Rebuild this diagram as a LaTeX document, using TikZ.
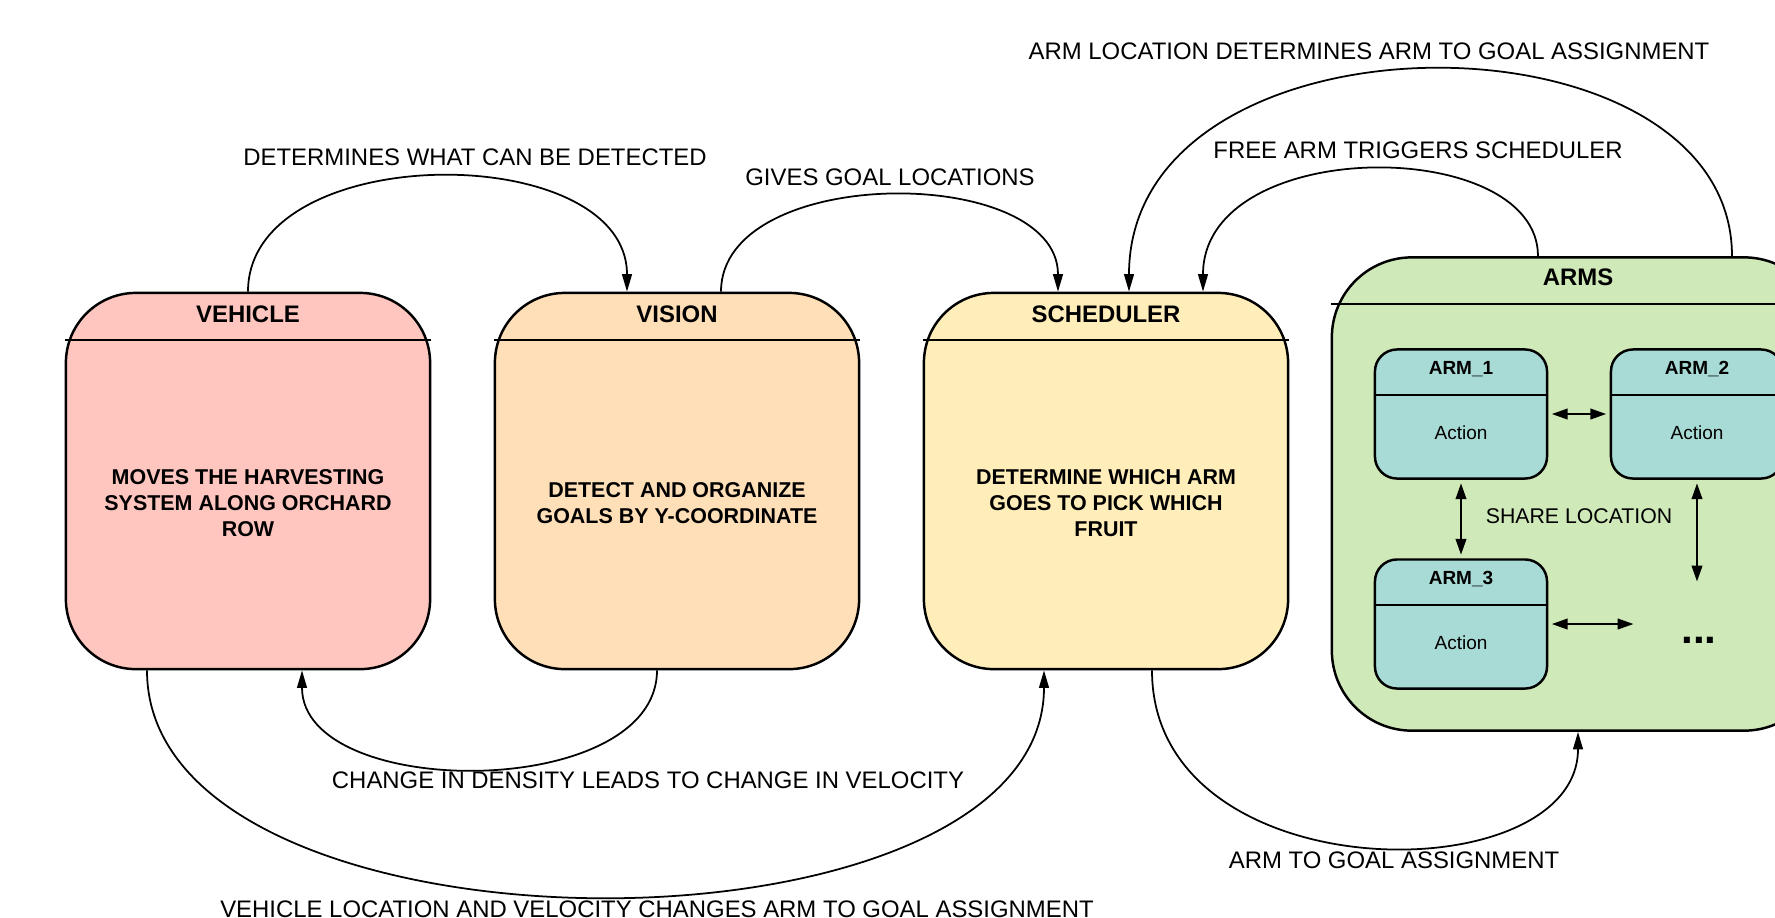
\documentclass[tikz,border=0pt]{standalone}
\usepackage{fontspec}
\setmainfont{Liberation Sans}
\usepackage{xcolor}
\usepackage{tikz}
\usetikzlibrary{arrows.meta,positioning,calc}

\definecolor{vehfill}{RGB}{255,198,192}
\definecolor{visfill}{RGB}{255,223,184}
\definecolor{schfill}{RGB}{255,238,185}
\definecolor{armsfill}{RGB}{207,233,184}
\definecolor{armfill}{RGB}{168,219,213}

\begin{document}
\begin{tikzpicture}[x=0.01cm, y=-0.01cm,
        block/.style={draw, rounded corners=0.7cm, line width=0.7pt, inner sep=0pt,
                      minimum width=3.64cm, minimum height=3.76cm},
        armbox/.style={draw, rounded corners=0.22cm, line width=0.7pt, inner sep=0pt,
                       fill=armfill, minimum width=1.72cm, minimum height=1.29cm},
        headtxt/.style={font=\fontsize{6.8}{8}\selectfont\bfseries},
        bodytxt/.style={align=center, font=\fontsize{6.1}{7.3}\selectfont\bfseries},
        armtxt/.style={font=\fontsize{5.4}{6.5}\selectfont},
        lab/.style={font=\fontsize{6.8}{8}\selectfont},
        sepline/.style={line width=0.6pt},
        arrow/.style={-{Triangle[length=5pt,width=2.8pt]}, line width=0.5pt},
        twoway/.style={{Triangle[length=4.5pt,width=3pt]}-{Triangle[length=4.5pt,width=3pt]},
                       line width=0.6pt, shorten <=1pt, shorten >=1pt}
    ]
        \useasboundingbox (0,0) rectangle (1775,917);
        \clip (0,0) rectangle (1775,917);

        % main blocks
        \node[block, fill=vehfill] (veh) at (248,481) {};
        \node[block, fill=visfill] (vis) at (677,481) {};
        \node[block, fill=schfill] (sched) at (1106,481) {};
        \node[draw, rounded corners=0.8cm, line width=0.7pt, inner sep=0pt, fill=armsfill,
              minimum width=4.92cm, minimum height=4.73cm] (arms) at (1578,494) {};

        \draw[sepline] ($(veh.north west)+(0,48)$) -- ($(veh.north east)+(0,48)$);
        \draw[sepline] ($(vis.north west)+(0,48)$) -- ($(vis.north east)+(0,48)$);
        \draw[sepline] ($(sched.north west)+(0,48)$) -- ($(sched.north east)+(0,48)$);
        \draw[sepline] ($(arms.north west)+(0,48)$) -- ($(arms.north east)+(0,48)$);

        \node[headtxt] (vehtitle) at ($(veh.north)+(0,23)$) {VEHICLE};
        \node[headtxt] (vistitle) at ($(vis.north)+(0,23)$) {VISION};
        \node[headtxt] (schtitle) at ($(sched.north)+(0,23)$) {SCHEDULER};
        \node[headtxt] (armstitle) at ($(arms.north)+(0,21)$) {ARMS};

        \node[bodytxt] (vehbody) at ($(veh.center)+(0,22)$) {MOVES THE HARVESTING\\SYSTEM ALONG ORCHARD\\ROW};
        \node[bodytxt] (visbody) at ($(vis.center)+(0,22)$) {DETECT AND ORGANIZE\\GOALS BY Y-COORDINATE};
        \node[bodytxt] (schbody) at ($(sched.center)+(0,22)$) {DETERMINE WHICH ARM\\GOES TO PICK WHICH\\FRUIT};

        % arms inside
        \node[armbox] (arm1) at (1461,414) {};
        \node[armbox] (arm2) at (1697,414) {};
        \node[armbox] (arm3) at (1461,624) {};
        \draw[sepline] ($(arm1.north west)+(0,47)$) -- ($(arm1.north east)+(0,47)$);
        \draw[sepline] ($(arm2.north west)+(0,47)$) -- ($(arm2.north east)+(0,47)$);
        \draw[sepline] ($(arm3.north west)+(0,47)$) -- ($(arm3.north east)+(0,47)$);
        \node[armtxt, font=\fontsize{5.4}{6.5}\selectfont\bfseries] (arm1title) at ($(arm1.north)+(0,21)$) {ARM\_1};
        \node[armtxt, font=\fontsize{5.4}{6.5}\selectfont\bfseries] (arm2title) at ($(arm2.north)+(0,21)$) {ARM\_2};
        \node[armtxt, font=\fontsize{5.4}{6.5}\selectfont\bfseries] (arm3title) at ($(arm3.north)+(0,21)$) {ARM\_3};
        \node[armtxt] (arm1act) at ($(arm1.north)+(0,84)$) {Action};
        \node[armtxt] (arm2act) at ($(arm2.north)+(0,84)$) {Action};
        \node[armtxt] (arm3act) at ($(arm3.north)+(0,84)$) {Action};

        \node[font=\fontsize{6.05}{7}\selectfont] (share) at (1579,516) {SHARE LOCATION};
        \node[font=\fontsize{12}{12}\selectfont\bfseries] (dots) at (1699,640) {...};
        \coordinate (arm2end) at (1697,585);
        \coordinate (arm3end) at (1637,624);

        \draw[twoway] (arm1) -- (arm2);
        \draw[twoway] (arm1) -- (arm3);
        \draw[twoway] (arm2) -- (arm2end);
        \draw[twoway] (arm3) -- (arm3end);

        % labels
        \node[lab] (l1) at (475,157) {DETERMINES WHAT CAN BE DETECTED};
        \node[lab] (l2) at (890,177) {GIVES GOAL LOCATIONS};
        \node[lab] (l3) at (1418,150) {FREE ARM TRIGGERS SCHEDULER};
        \node[lab] (l4) at (1369,51) {ARM LOCATION DETERMINES ARM TO GOAL ASSIGNMENT};
        \node[lab] (l5) at (648,780) {CHANGE IN DENSITY LEADS TO CHANGE IN VELOCITY};
        \node[lab] (l6) at (657,909) {VEHICLE LOCATION AND VELOCITY CHANGES ARM TO GOAL ASSIGNMENT};
        \node[lab] (l7) at (1394,860) {ARM TO GOAL ASSIGNMENT};

        % connectors
        \draw[arrow] (veh.north) .. controls +(0,-153) and +(0,-153) .. ($(vis.north)+(-50,0)$);
        \draw[arrow] ($(vis.north)+(44,0)$) .. controls +(0,-128) and +(0,-128) .. ($(sched.north)+(-48,0)$);
        \draw[arrow] ($(arms.north)+(-40,0)$) .. controls +(0,-121) and +(0,-157) .. ($(sched.north)+(97,0)$);
        \draw[arrow] ($(arms.north)+(154,0)$) .. controls +(0,-254) and +(0,-290) .. ($(sched.north)+(23,0)$);
        \draw[arrow] ($(vis.south)+(-20,0)$) .. controls +(0,131) and +(0,131) .. ($(veh.south)+(54,0)$);
        \draw[arrow] ($(veh.south)+(-101,0)$) .. controls +(0,301) and +(0,301) .. ($(sched.south)+(-62,0)$);
        \draw[arrow] ($(sched.south)+(46,0)$) .. controls +(0,224) and +(0,162) .. (arms.south);
    \end{tikzpicture}
\end{document}
